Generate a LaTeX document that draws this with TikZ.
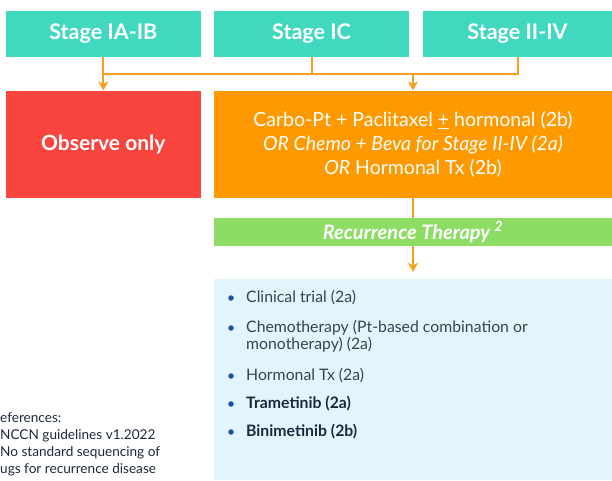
\documentclass[tikz,border=0pt]{standalone}
\usepackage{fontspec}
\setmainfont{Lato}
\usetikzlibrary{arrows.meta}
\definecolor{stageteal}{RGB}{64,217,192}
\definecolor{obsred}{RGB}{250,68,62}
\definecolor{treatorange}{RGB}{255,153,0}
\definecolor{recgreen}{RGB}{141,221,100}
\definecolor{listblue}{RGB}{226,245,253}
\definecolor{dotblue}{RGB}{22,82,170}
\definecolor{linkorange}{RGB}{247,160,30}
\definecolor{itemgray}{RGB}{58,66,78}
\definecolor{itemnavy}{RGB}{28,40,60}
\tikzstyle{stagebox}=[rectangle, fill=stageteal, text=white, inner sep=0pt,
    font=\fontsize{21.5}{24}\selectfont\bfseries, minimum width=195pt, minimum height=46pt]
\tikzstyle{treat}=[rectangle, text=white, inner sep=0pt, align=center,
    font=\fontsize{19.5}{24}\selectfont, minimum height=107.3pt]
\tikzstyle{bar}=[rectangle, fill=recgreen, text=white, inner sep=0pt,
    font=\fontsize{20}{22}\selectfont\bfseries\itshape, minimum width=398pt, minimum height=28pt]
\tikzstyle{item}=[anchor=west, text=itemgray, inner sep=0pt, align=left,
    font=\fontsize{15.8}{17}\selectfont]
\tikzstyle{dot}=[circle, fill=dotblue, minimum size=5.5pt, inner sep=0pt]
\tikzstyle{link}=[draw=linkorange, line width=2pt]

\begin{document}
\begin{tikzpicture}[x=1pt,y=-1pt,>={Stealth[length=9pt,width=10pt,inset=2.5pt]}]
  \useasboundingbox (0,0) rectangle (612,480);
  \node at (103.3,34) (ia)[stagebox] {Stage IA-IB};
  \node at (311.5,34) (ic)[stagebox] {Stage IC};
  \node at (517.5,34) (iiiv)[stagebox, minimum width=189pt] {Stage II-IV};

  \node at (103.3,144.3) (obs)[treat, fill=obsred, minimum width=194.7pt, font=\fontsize{21}{24}\selectfont\bfseries] {Observe only};
  \node at (413,144.3) (chemo)[treat, fill=treatorange, minimum width=398pt]
    {Carbo-Pt + Paclitaxel \underline{+} hormonal (2b)\\ \textit{OR Chemo + Beva for Stage II-IV (2a)}\\ \textit{OR} Hormonal Tx (2b)};
  \node at (413,232) (rec)[bar] {Recurrence Therapy \textsuperscript{2}};
  \node at (413,379.5) (list)[rectangle, fill=listblue, minimum width=398pt, minimum height=201pt] {};

  \coordinate (join) at (311.5,74);
  \draw[link] (ic.south) -- (join);
  \draw[link] (iiiv.south) |- (ia.south |- join);
  \draw[link,->] (ia.south) -- (obs.north);
  \draw[link,->] (chemo.north |- join) -- (chemo.north);
  \draw[link] (chemo.south) -- (rec.north);
  \draw[link,->,shorten >=7pt] (rec.south) -- (list.north);

  \node at (231,298) (d1)[dot] {};
  \node at (246,298) (clin)[item] {Clinical trial (2a)};
  \node at (231,328) (d2)[dot] {};
  \node at (246,336.5) (chemot)[item] {Chemotherapy (Pt-based combination or\\monotherapy) (2a)};
  \node at (231,376) (d3)[dot] {};
  \node at (246,376) (horm)[item] {Hormonal Tx (2a)};
  \node at (231,404) (d4)[dot] {};
  \node at (246,404) (tram)[item, text=itemnavy, font=\fontsize{15.8}{17}\selectfont\bfseries] {Trametinib (2a)};
  \node at (231,432) (d5)[dot] {};
  \node at (246,432) (bini)[item, text=itemnavy, font=\fontsize{15.8}{17}\selectfont\bfseries] {Binimetinib (2b)};

  \node at (0,444.5) (refs)[item, text=itemnavy, font=\fontsize{13.6}{17}\selectfont]
    {eferences:\\NCCN guidelines v1.2022\\No standard sequencing of\\ugs for recurrence disease};
\end{tikzpicture}
\end{document}
